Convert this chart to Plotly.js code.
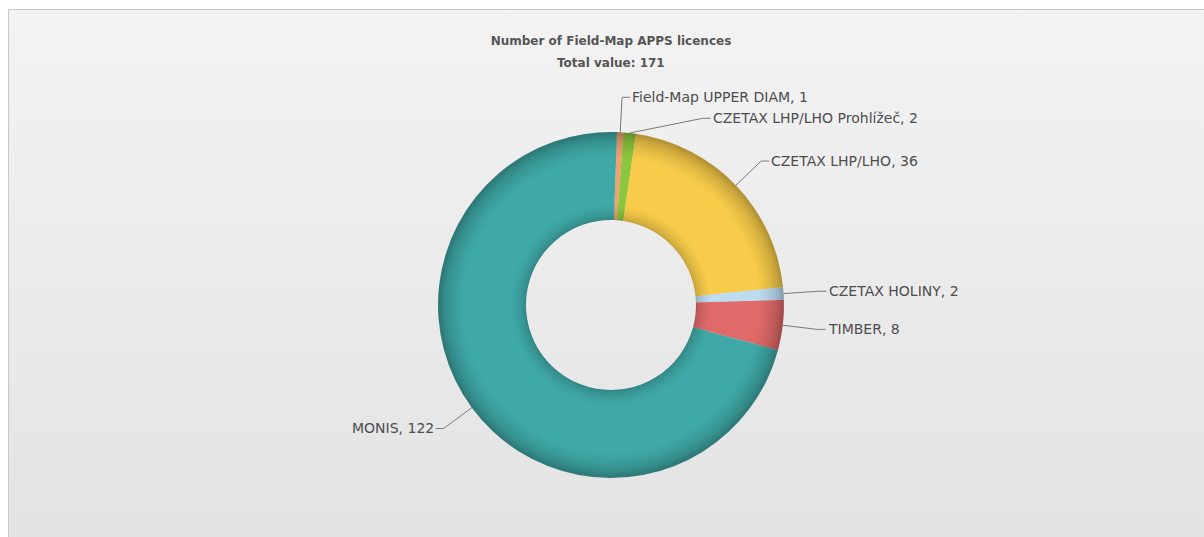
<!DOCTYPE html>
<html><head><meta charset="utf-8">
<script src="https://cdn.plot.ly/plotly-3.0.1.min.js"></script>
<style>
html,body{margin:0;padding:0;background:#fff;width:1204px;height:537px;overflow:hidden;}
#bg{position:absolute;left:8px;top:9px;width:1196px;height:528px;border-left:1px solid #c8c8c8;border-top:1px solid #c8c8c8;background:linear-gradient(to bottom,#f3f3f3 0%,#e3e3e3 100%);}
#chart{position:absolute;left:0;top:0;width:1204px;height:537px;}
</style></head><body>
<div id="bg"></div><div id="chart"></div>
<script>
// ---- data ----
const chartTitle = 'Number of Field-Map APPS licences';
const totalLabel = 'Total value';
const categories = ['Field-Map UPPER DIAM', 'CZETAX LHP/LHO Prohlížeč', 'CZETAX LHP/LHO', 'CZETAX HOLINY', 'TIMBER', 'MONIS'];
const licences = [1, 2, 36, 2, 8, 122];
const sliceColors = ['#f2a070', '#8cc63e', '#f8cc4a', '#bcdcf2', '#e06a6a', '#3fa9a7'];

// ---- geometry / style ----
const W = 1204, H = 537;
const M = {l: 438, r: 420, t: 132, b: 59};
const PW = W - M.l - M.r, PH = H - M.t - M.b;
const CX = M.l + PW / 2, CY = M.t + PH / 2;
const R = PW / 2;
const HOLE_R = 85;
const ROT = 2;
const FONT = 'DejaVu Sans, Verdana, sans-serif';

function shade(hex, f) {
  const n = parseInt(hex.slice(1), 16);
  const c = [(n >> 16) & 255, (n >> 8) & 255, n & 255].map(v => Math.max(0, Math.min(255, Math.round(v * f))));
  return 'rgb(' + c.join(',') + ')';
}

// concentric bands imitating the bevel shading (styling only)
function brightness(r) {
  const inner = (r - HOLE_R) / 16, outer = (R - r) / 24;
  let f = 1;
  if (inner < 1) f = Math.min(f, 0.72 + 0.28 * Math.sqrt(Math.max(inner, 0)));
  if (outer < 1) f = Math.min(f, 0.66 + 0.34 * Math.sqrt(Math.max(outer, 0)));
  return f;
}
const edges = [];
for (let r = HOLE_R; r < HOLE_R + 16; r += 2) edges.push(r);
for (let r = HOLE_R + 16; r < R - 24; r += 20) edges.push(r);
for (let r = R - 24; r < R; r += 2) edges.push(r);
edges.push(R);
const bands = [];
for (let k = 0; k < edges.length - 1; k++) {
  const a = edges[k], b = edges[k + 1];
  bands.push([k === 0 ? a : a - 1, b, brightness((a + b) / 2)]);
}

const traces = bands.map((b, k) => ({
  type: 'pie',
  labels: categories,
  values: licences,
  sort: false,
  direction: 'clockwise',
  rotation: ROT,
  hole: b[0] / b[1],
  domain: {x: [0.5 - b[1] / PW, 0.5 + b[1] / PW], y: [0.5 - b[1] / PH, 0.5 + b[1] / PH]},
  marker: {colors: sliceColors.map(c => shade(c, b[2])), line: {width: 0}},
  textinfo: 'none',
  hoverinfo: b[2] === 1 ? 'label+value' : 'skip',
  showlegend: false
}));

// ---- outside labels with elbow leader lines ----
const total = licences.reduce((a, b) => a + b, 0);
let cum = 0;
const mids = licences.map(v => { const m = ROT + (cum + v / 2) / total * 360; cum += v; return m; });
const RE = R + 35, GAP = 21;
const items = mids.map((deg, i) => {
  const a = deg * Math.PI / 180;
  return {i, side: Math.sin(a) >= 0 ? 1 : -1, sx: CX + R * Math.sin(a), sy: CY - R * Math.cos(a), y: CY - RE * Math.cos(a)};
});
[1, -1].forEach(side => {
  const g = items.filter(o => o.side === side).sort((p, q) => p.y - q.y);
  for (let k = 1; k < g.length; k++) if (g[k].y < g[k - 1].y + GAP) g[k].y = g[k - 1].y + GAP;
});
const px2x = p => (p - M.l) / PW;
const py2y = p => 1 - (p - M.t) / PH;
const shapes = [], annotations = [];
items.forEach(o => {
  const dy = o.y - CY;
  const ex = CX + o.side * Math.sqrt(Math.max(RE * RE - dy * dy, 0));
  const hx = ex + o.side * 8;
  shapes.push({type: 'path', xref: 'paper', yref: 'paper',
    path: `M ${px2x(o.sx)},${py2y(o.sy)} L ${px2x(ex)},${py2y(o.y)} L ${px2x(hx)},${py2y(o.y)}`,
    line: {color: '#7a7a7a', width: 1}});
  annotations.push({xref: 'paper', yref: 'paper', x: px2x(hx), y: py2y(o.y),
    xanchor: o.side > 0 ? 'left' : 'right', yanchor: 'middle', showarrow: false,
    text: categories[o.i] + ', ' + licences[o.i],
    font: {family: FONT, size: 14, color: '#4d4d4d'}});
});
annotations.push({xref: 'paper', yref: 'paper', x: 0.5, y: py2y(63), xanchor: 'center', yanchor: 'middle',
  showarrow: false, text: totalLabel + ': ' + total,
  font: {family: FONT, size: 12, color: '#555555', weight: 'bold'}});

const layout = {
  width: W, height: H, autosize: false,
  margin: M,
  paper_bgcolor: 'rgba(0,0,0,0)', plot_bgcolor: 'rgba(0,0,0,0)',
  showlegend: false,
  title: {text: chartTitle, x: 0.5, xref: 'paper', xanchor: 'center', y: 1 - 41 / H, yref: 'container', yanchor: 'middle',
    font: {family: FONT, size: 12, color: '#555555', weight: 'bold'}},
  shapes, annotations
};
Plotly.newPlot('chart', traces, layout, {displayModeBar: false});
</script>
</body></html>
